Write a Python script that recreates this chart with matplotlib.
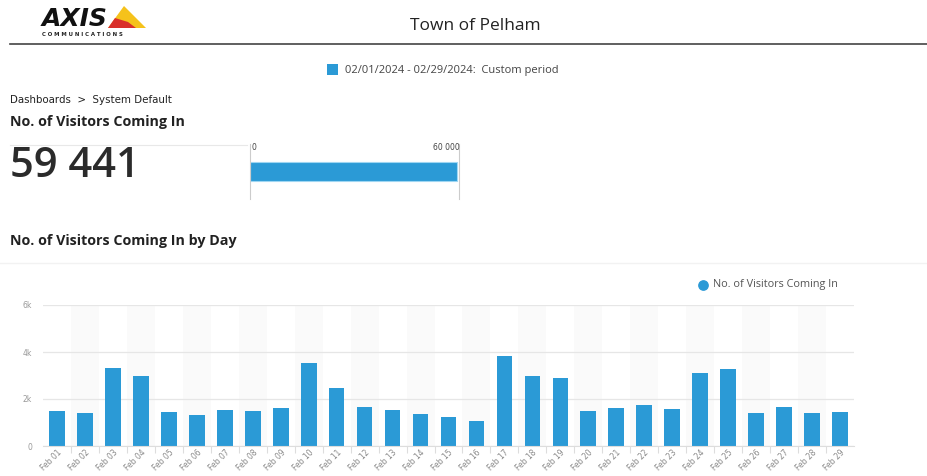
import matplotlib
matplotlib.use('Agg')
import matplotlib.pyplot as plt
from matplotlib.patches import Rectangle, Polygon
from matplotlib.lines import Line2D

# Datos del grafico
dias = ["Feb %02d" % d for d in range(1, 30)]
visitantes = [1480, 1390, 3310, 2990, 1450, 1330, 1530, 1480, 1630, 3530,
              2450, 1670, 1520, 1350, 1230, 1060, 3830, 2990, 2910, 1480,
              1630, 1730, 1570, 3120, 3290, 1420, 1670, 1390, 1450]
total_visitantes = 59441
maximo_barra = 60000
yticks = [0, 2000, 4000, 6000]
ytick_labels = ["0", "2k", "4k", "6k"]

AZUL = '#2b9ad6'
W, H = 928, 476

fig = plt.figure(figsize=(W / 100, H / 100), dpi=100)
fig.patch.set_facecolor('white')

# Pasar de pixeles a coordenadas de figura
def px(x, y):
    return x / W, 1 - y / H

def texto(x, y, s, **kw):
    fx, fy = px(x, y)
    fig.text(fx, fy, s, **kw)

def linea(x0, y0, x1, y1, **kw):
    a = px(x0, y0)
    b = px(x1, y1)
    fig.add_artist(Line2D([a[0], b[0]], [a[1], b[1]], **kw))

# Logo AXIS
texto(42, 19, "AXIS", fontsize=18, fontweight='bold', fontstyle='italic',
      family='DejaVu Sans', color='#111111', va='center', ha='left')
tri = Polygon([px(108, 28), px(124, 6), px(146, 28)], closed=True,
              facecolor='#f5c21b', edgecolor='none')
fig.add_artist(tri)
rojo = Polygon([px(108, 28), px(115, 18), px(128, 22), px(136, 28)], closed=True,
               facecolor='#d9302a', edgecolor='none')
fig.add_artist(rojo)
texto(42, 34, "C O M M U N I C A T I O N S", fontsize=3.9, fontweight='bold',
      color='#222222', va='center', ha='left')

# Titulo
texto(475, 26, "Town of Pelham", fontsize=12.5, family='Open Sans',
      color='#222222', ha='center', va='center')
linea(10, 44, 928, 44, color='#444444', lw=1.2)

# Periodo
fig.add_artist(Rectangle(px(327, 75), 11 / W, 11 / H, facecolor=AZUL, edgecolor='none'))
texto(345, 70, "02/01/2024 - 02/29/2024:  Custom period", fontsize=8,
      family='Open Sans', color='#444444', ha='left', va='center')

# Ruta y titulos
texto(10, 100, "Dashboards  >  System Default", fontsize=7.4,
      family=['Liberation Sans Narrow', 'DejaVu Sans'], color='#222222',
      ha='left', va='center')
texto(10, 122, "No. of Visitors Coming In", fontsize=10.3, family='Open Sans',
      fontweight='bold', color='#222222', ha='left', va='center')
linea(10, 145, 247, 145, color='#e8e8e8', lw=0.8)
texto(10, 166, "{:,}".format(total_visitantes).replace(",", " "), fontsize=30,
      family='Open Sans', fontweight='semibold', color='#2b2b2b',
      ha='left', va='center')

# Barra de progreso
ax_p = fig.add_axes([250 / W, 1 - 199 / H, 209 / W, 55 / H])
ax_p.set_xlim(0, maximo_barra)
ax_p.set_ylim(0, 1)
ax_p.barh([0.5], [total_visitantes], height=19 / 55, left=0, color=AZUL,
          edgecolor='#9fd6f2', linewidth=0.8)
ax_p.axvline(0, color='#cccccc', lw=0.8, clip_on=False)
ax_p.axvline(maximo_barra, color='#cccccc', lw=0.8, clip_on=False)
ax_p.axis('off')
ax_p.set_xlim(0, maximo_barra)
texto(252, 148, "0", fontsize=5.5, color='#444444', ha='left', va='center')
texto(460, 148, "60 000", fontsize=5.5, color='#444444', ha='right', va='center')

# Grafico por dia
texto(10, 241, "No. of Visitors Coming In by Day", fontsize=10.3, family='Open Sans',
      fontweight='bold', color='#222222', ha='left', va='center')
linea(0, 263, 928, 263, color='#f2f2f2', lw=1.0)

ax_l = fig.add_axes([0, 0, 1, 1], facecolor='none')
ax_l.axis('off')
ax_l.set_xlim(0, 1)
ax_l.set_ylim(0, 1)
ax_l.scatter([703.5 / W], [1 - 285 / H], s=45, color=AZUL, transform=ax_l.transAxes)
texto(713, 285, "No. of Visitors Coming In", fontsize=7.8, family='Open Sans',
      color='#555555', ha='left', va='center')

ax = fig.add_axes([43 / W, 1 - 446 / H, 811 / W, 141 / H])
x = list(range(len(dias)))
for i in x:
    if i % 2 == 1:
        ax.axvspan(i - 0.5, i + 0.5, color='#fafafa', lw=0, zorder=0)
ax.bar(x, visitantes, width=0.56, color=AZUL, zorder=3)
ax.set_xlim(-0.5, len(dias) - 0.5)
ax.set_ylim(0, 6000)
ax.set_yticks(yticks)
ax.set_yticklabels(ytick_labels, fontsize=5.5, color='#999999')
ax.yaxis.grid(True, color='#e6e6e6', lw=0.9, zorder=1)
ax.set_xticks(x)
ax.set_xticklabels(dias, rotation=45, ha='right', rotation_mode='anchor',
                   fontsize=5.5, color='#888888')
ax.set_xticks([i + 0.5 for i in x[:-1]], minor=True)
ax.tick_params(axis='x', which='major', length=0, pad=1.5)
ax.tick_params(axis='x', which='minor', length=5, color='#dddddd', width=0.8)
ax.tick_params(axis='y', length=0, pad=8)
for lado in ['top', 'right', 'left']:
    ax.spines[lado].set_visible(False)
ax.spines['bottom'].set_color('#dddddd')
ax.spines['bottom'].set_zorder(4)
ax.set_facecolor('white')
ax.set_axisbelow(True)

plt.savefig('out.png', dpi=100, facecolor='white')
